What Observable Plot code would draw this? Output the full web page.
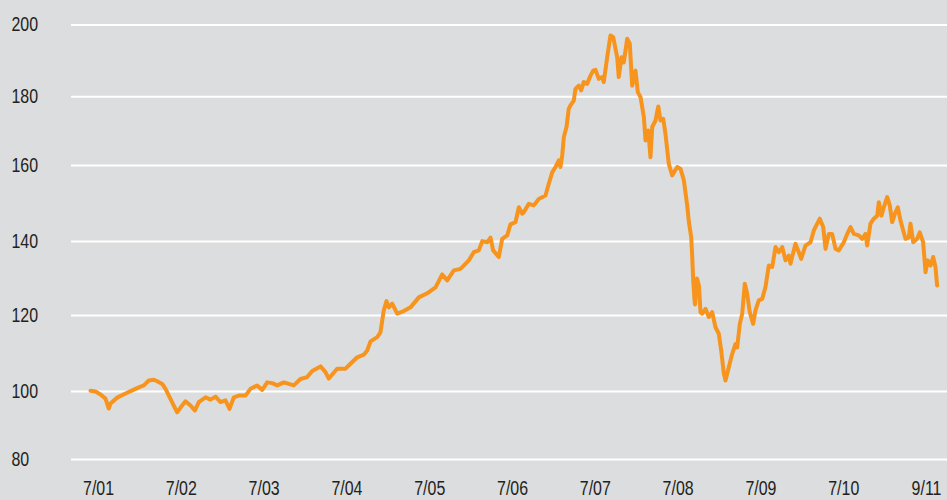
<!DOCTYPE html>
<html><head><meta charset="utf-8">
<script src="https://cdn.jsdelivr.net/npm/d3@7"></script>
<script src="https://cdn.jsdelivr.net/npm/@observablehq/plot@0.6"></script>
<style>
html,body{margin:0;padding:0;background:#dcdddf;overflow:hidden;}
</style></head><body><div id="chart"></div>
<script>
// time in decimal years, index values
const years = [
2001.500,2001.560,2001.621,2001.681,2001.721,2001.742,2001.822,2001.923,2002.004,2002.083,
2002.144,2002.204,2002.264,2002.306,2002.366,2002.406,2002.446,2002.494,2002.547,2002.607,
2002.647,2002.708,2002.760,2002.808,2002.889,2002.949,2003.010,2003.070,2003.130,2003.179,
2003.231,2003.291,2003.372,2003.432,2003.513,2003.574,2003.634,2003.694,2003.755,2003.835,
2003.895,2003.955,2004.036,2004.117,2004.178,2004.278,2004.338,2004.378,2004.479,2004.580,
2004.640,2004.721,2004.801,2004.842,2004.882,2004.963,2005.002,2005.042,2005.075,2005.103,
2005.144,2005.204,2005.284,2005.365,2005.465,2005.566,2005.667,2005.748,2005.808,2005.888,
2005.969,2006.069,2006.129,2006.190,2006.231,2006.291,2006.331,2006.363,2006.431,2006.472,
2006.533,2006.572,2006.633,2006.673,2006.714,2006.733,2006.793,2006.854,2006.914,2006.995,
2007.035,2007.076,2007.116,2007.156,2007.176,2007.197,2007.216,2007.249,2007.276,2007.297,
2007.337,2007.357,2007.397,2007.426,2007.457,2007.498,2007.539,2007.571,2007.599,2007.639,
2007.680,2007.699,2007.740,2007.780,2007.813,2007.861,2007.880,2007.913,2007.941,2007.982,
2008.013,2008.042,2008.082,2008.110,2008.143,2008.183,2008.203,2008.236,2008.263,2008.284,
2008.324,2008.357,2008.384,2008.417,2008.444,2008.484,2008.525,2008.586,2008.626,2008.666,
2008.707,2008.726,2008.755,2008.767,2008.779,2008.795,2008.801,2008.825,2008.849,2008.867,
2008.888,2008.928,2008.967,2009.008,2009.048,2009.088,2009.117,2009.149,2009.169,2009.209,
2009.250,2009.290,2009.310,2009.342,2009.371,2009.402,2009.431,2009.462,2009.503,2009.531,
2009.571,2009.612,2009.652,2009.692,2009.733,2009.773,2009.813,2009.854,2009.894,2009.934,
2009.954,2010.014,2010.054,2010.083,2010.135,2010.196,2010.236,2010.277,2010.308,2010.349,
2010.377,2010.417,2010.457,2010.498,2010.538,2010.598,2010.639,2010.679,2010.719,2010.779,
2010.820,2010.860,2010.880,2010.920,2010.960,2011.001,2011.021,2011.053,2011.081,2011.122,
2011.153,2011.182,2011.222,2011.250,2011.283,2011.315,2011.343,2011.383,2011.403,2011.436,
2011.484,2011.515,2011.556,2011.585,2011.612,2011.645,2011.677,2011.705,2011.725
];
const values = [
100.2,100.0,99.1,97.9,95.0,96.5,98.2,99.4,100.3,101.1,
101.6,102.9,103.1,102.7,102.0,100.7,98.8,96.4,93.9,95.9,
97.1,95.9,94.4,96.9,98.3,97.6,98.5,96.9,97.4,94.9,
98.3,98.8,98.8,100.7,101.6,100.4,102.4,102.2,101.6,102.4,
102.0,101.6,103.3,103.8,105.4,106.6,105.1,103.4,106.0,106.0,
107.3,109.0,109.7,110.8,113.2,114.3,115.6,121.4,123.9,122.2,
123.2,120.5,121.2,122.2,124.9,126.0,127.6,131.1,129.5,132.2,
132.6,134.9,137.1,137.6,140.1,139.8,141.0,137.6,135.8,140.7,
141.6,144.5,145.1,149.0,147.3,147.7,149.9,149.5,151.2,152.1,
155.2,158.2,159.6,161.5,159.6,162.9,168.2,171.2,176.5,177.5,
178.9,182.2,183.1,181.8,184.1,183.6,185.9,187.3,187.5,185.0,
185.5,184.1,191.0,197.1,196.6,191.0,185.5,191.0,189.6,196.2,
194.8,183.1,187.3,181.3,179.9,174.1,167.3,170.2,162.4,171.2,
173.1,177.2,173.1,173.6,169.2,160.5,157.4,159.6,159.1,156.1,
149.4,145.3,141.1,136.0,129.5,124.1,123.0,130.0,128.0,120.9,
120.5,121.8,119.6,120.9,116.9,115.2,110.8,104.7,102.9,106.4,
109.9,112.5,111.6,117.8,120.5,128.6,125.9,120.9,117.8,121.4,
124.1,124.5,127.7,133.5,133.1,138.5,137.1,138.5,134.9,136.2,
134.0,139.4,137.1,135.3,138.9,139.8,142.9,144.7,146.0,143.8,
138.0,142.0,142.0,138.0,137.6,139.8,142.0,143.8,142.0,141.6,
140.7,142.0,138.9,144.7,146.0,146.8,150.3,146.8,149.0,151.7,
149.5,145.1,147.7,149.0,145.5,142.9,140.7,141.1,144.7,139.8,
140.7,142.4,139.8,131.7,134.9,133.5,135.8,133.1,128.1
];
const xTickYears = [2001.597,2002.597,2003.597,2004.597,2005.597,2006.597,2007.597,2008.597,2009.597,2010.597,2011.597];
const xTickLabels = ["7/01","7/02","7/03","7/04","7/05","7/06","7/07","7/08","7/09","7/10","9/11"];
const yTicks = [80,100,120,140,160,180,200];

const data = years.map((t, i) => ({t, v: values[i]}));

// the source chart's gridlines are not quite evenly spaced; a small piecewise
// scale transform reproduces that spacing
const yWarp = d3.scaleLinear()
  .domain([80, 100, 120, 140, 160, 180, 200])
  .range([80, 98.78, 119.77, 140.21, 161.20, 180.17, 200]);

const chart = Plot.plot({
  width: 947, height: 500,
  marginLeft: 71, marginRight: 0, marginTop: 24.5, marginBottom: 41,
  style: {background: "#dcdddf", fontFamily: "'Liberation Sans', Arial, sans-serif", fontSize: "21px", color: "#231f20", overflow: "visible"},
  x: {domain: [2001.2705, 2011.8502], label: null},
  y: {domain: [80, 200], transform: yWarp, label: null},
  marks: [
    Plot.gridY(yTicks, {stroke: "#ffffff", strokeOpacity: 1, strokeWidth: 2}),
    Plot.axisY(yTicks, {anchor: "left", tickSize: 0, tickPadding: 60, textAnchor: "start", label: null, dy: -0.5}),
    Plot.axisX(xTickYears, {anchor: "bottom", tickSize: 0, tickPadding: 21, label: null,
      tickFormat: d => xTickLabels[xTickYears.indexOf(d)]}),
    Plot.line(data, {x: "t", y: "v", stroke: "#f7941d", strokeWidth: 4, strokeLinejoin: "round"})
  ]
});
document.getElementById("chart").appendChild(chart);
// condensed lettering like the original: squeeze each label horizontally about its anchor
d3.select(chart).selectAll("text").each(function() {
  const xa = this.getAttribute("x");
  let x = 0;
  if (xa !== null && isFinite(+xa)) { x = +xa; this.removeAttribute("x"); }
  const t = this.getAttribute("transform") || "";
  this.setAttribute("transform", `${t} translate(${x},0) scale(0.76,1)`);
});
</script>
</body></html>
